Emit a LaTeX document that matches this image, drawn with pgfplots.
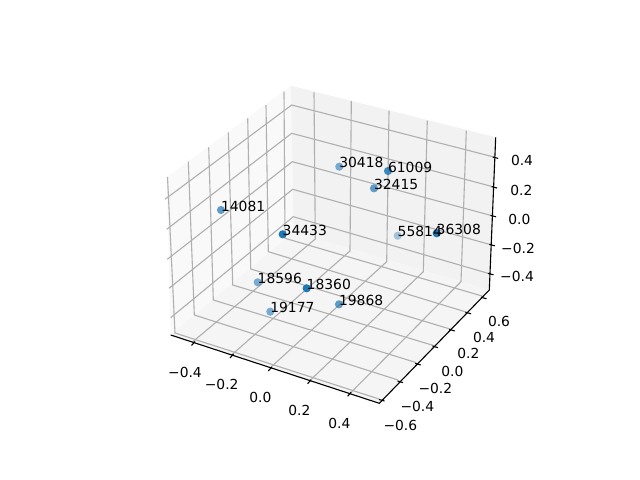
\documentclass[border=0pt]{standalone}
\usepackage{fontspec}
\setmainfont{DejaVu Sans}
\usepackage{pgfplots}
\pgfplotsset{compat=1.18}
\definecolor{tabblue}{HTML}{1F77B4}
\definecolor{gridc}{gray}{0.69}
\pgfplotsset{
  grd/.style={color=gridc, line width=0.8bp, no markers, unbounded coords=jump},
  spine/.style={color=black, line width=0.8bp, no markers, unbounded coords=jump},
  pt/.style={only marks, mark=*, mark size=2.95bp, color=tabblue,
    mark options={draw=tabblue, line width=0pt, draw opacity=0, fill=tabblue, fill opacity=#1},
    point meta=explicit symbolic, nodes near coords,
    every node near coord/.append style={anchor=base west, inner sep=0pt, outer sep=0pt,
      black, opacity=1, yshift=-0.8bp, font=\fontsize{10bp}{12bp}\selectfont}},
}
% all positions are pixels of the 640x480 picture, y downwards
\begin{document}
\begin{tikzpicture}
\begin{axis}[
  width=6.4in, height=4.8in, scale only axis,
  xmin=0, xmax=640, ymin=0, ymax=480, y dir=reverse,
  hide axis, clip=false,
]
\fill[white] (axis cs:0,0) rectangle (axis cs:640,480);
% panes
\addplot[fill={rgb,1:red,0.975;green,0.975;blue,0.975}, draw=none] coordinates {(170.7,335) (293.7,231.8) (291,85.7) (166.7,177.3)} -- cycle;
\addplot[fill={rgb,1:red,0.95;green,0.95;blue,0.95}, draw=none] coordinates {(293.7,231.8) (489.3,290) (495.7,137.3) (291,85.7)} -- cycle;
\addplot[fill={rgb,1:red,0.9625;green,0.9625;blue,0.9625}, draw=none] coordinates {(170.7,335) (379.3,403.3) (489.3,290) (293.7,231.8)} -- cycle;
% x grid: back wall, then floor
\addplot[grd] coordinates {
  (314,92.3) (315.3,239) (192.5,342) (nan,nan)
  (351.3,101) (350,251) (231.5,355) (nan,nan)
  (389,110.7) (386.7,261.7) (270,368) (nan,nan)
  (427.3,120.7) (423.3,271.7) (309.5,381) (nan,nan)
  (466.3,130.7) (461,281.7) (349.5,394)
};
% y grid: left wall, then floor
\addplot[grd] coordinates {
  (167.5,177) (175,333) (379,399) (nan,nan)
  (188.3,161.7) (194.3,315) (398,380) (nan,nan)
  (208.7,147.3) (213.3,300) (416,362.5) (nan,nan)
  (228.3,132.3) (232.7,285) (433.5,345.5) (nan,nan)
  (247.7,118.3) (250.7,269) (450,329) (nan,nan)
  (266,105) (268.3,251.7) (466,312) (nan,nan)
  (284,91.7) (285,238.3) (482,296)
};
% z grid: left wall, then back wall
\addplot[grd] coordinates {
  (165,199.3) (291.7,105) (495,157.3) (nan,nan)
  (166.7,229.3) (291.7,133.3) (494,187) (nan,nan)
  (167.3,259.3) (292.3,161.7) (493,216) (nan,nan)
  (169,288.3) (292.7,189.3) (491.7,245) (nan,nan)
  (170.7,317.7) (293.3,216.7) (490.5,274)
};
% axis lines
\addplot[spine] coordinates {(170.7,335) (379.3,403.3) (489.3,290) (495.7,137.3)};
% ticks
\addplot[spine] coordinates {
  (191.5,345.5) (195,341.5) (nan,nan)
  (230,358) (233.5,354) (nan,nan)
  (268.3,371) (271.8,367) (nan,nan)
  (307.6,383.7) (311.1,379.7) (nan,nan)
  (347.6,396.3) (351.1,392.3) (nan,nan)
  (379,399.5) (384.5,401) (nan,nan)
  (397.5,381) (403,382.6) (nan,nan)
  (415.2,363.3) (420.7,365) (nan,nan)
  (432.5,346) (438,347.7) (nan,nan)
  (449.2,329.3) (454.7,331) (nan,nan)
  (465.5,312.2) (471,313.8) (nan,nan)
  (481,297.2) (486.5,298.8) (nan,nan)
  (492.7,157) (498.2,158.4) (nan,nan)
  (491.5,186.6) (497,188) (nan,nan)
  (490.5,215.4) (496,216.8) (nan,nan)
  (489.3,244.4) (494.8,245.8) (nan,nan)
  (488,273.4) (493.5,274.8)
};
% tick labels
\begingroup
\tikzset{every node/.style={inner sep=0pt, font=\fontsize{10bp}{12bp}\selectfont}}
\node at (axis cs:185,372.3) {−0.4};
\node at (axis cs:221.7,384) {−0.2};
\node at (axis cs:260.3,397.3) {0.0};
\node at (axis cs:299.3,410) {0.2};
\node at (axis cs:339.3,423.3) {0.4};
\node at (axis cs:400.3,425) {−0.6};
\node at (axis cs:417.3,406) {−0.4};
\node at (axis cs:435.3,388.3) {−0.2};
\node at (axis cs:452.3,371) {0.0};
\node at (axis cs:468.3,353.3) {0.2};
\node at (axis cs:484,337.3) {0.4};
\node at (axis cs:499,321) {0.6};
\node at (axis cs:522,160) {0.4};
\node at (axis cs:521.3,190.3) {0.2};
\node at (axis cs:519.3,219.3) {0.0};
\node at (axis cs:518,248.3) {−0.2};
\node at (axis cs:517,276.7) {−0.4};
\endgroup
% points, depth-shaded; 36308 first since the 55814 label runs over it
\addplot[pt=1] table[meta=label] {
x y label
436.7 233.3 36308
282.7 234.3 34433
306.7 288.3 18360
};
\addplot[pt=0.85] table[meta=label] {
x y label
388 171 61009
};
\addplot[pt=0.7] table[meta=label] {
x y label
221 210 14081
374 188.3 32415
339 304.3 19868
};
\addplot[pt=0.58] table[meta=label] {
x y label
257.7 282.3 18596
339.3 166.7 30418
270.3 311.7 19177
};
\addplot[pt=0.38] table[meta=label] {
x y label
397.7 235.7 55814
};
\end{axis}
\end{tikzpicture}
\end{document}
